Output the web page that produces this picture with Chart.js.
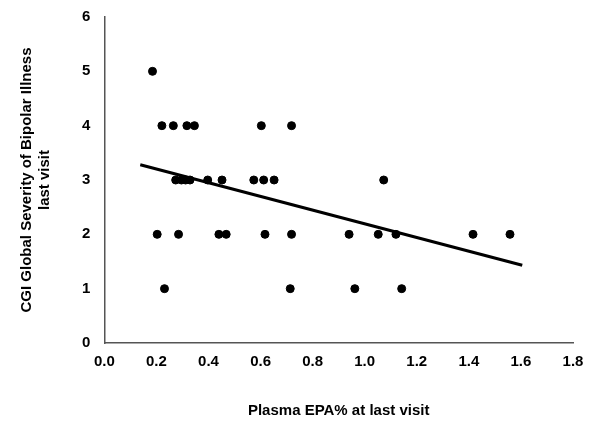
<!DOCTYPE html>
<html>
<head>
<meta charset="utf-8">
<script src="https://cdn.jsdelivr.net/npm/chart.js@4"></script>
<style>
  html, body { margin: 0; padding: 0; background: #fff; }
  #wrap { width: 601px; height: 427px; }
</style>
</head>
<body>
<div id="wrap"><canvas id="c"></canvas></div>
<script>
"use strict";

// Plasma EPA% vs CGI severity
const epaX = [0.185, 0.221, 0.265, 0.317, 0.346, 0.603, 0.719,
  0.274, 0.296, 0.312, 0.329, 0.397, 0.452, 0.574, 0.612, 0.652, 1.073,
  0.203, 0.285, 0.44, 0.468, 0.617, 0.719, 0.94, 1.052, 1.12, 1.416, 1.558,
  0.231, 0.714, 0.962, 1.142];
const cgiY = [5, 4, 4, 4, 4, 4, 4,
  3, 3, 3, 3, 3, 3, 3, 3, 3, 3,
  2, 2, 2, 2, 2, 2, 2, 2, 2, 2, 2,
  1, 1, 1, 1];
const fitX = [0.138, 1.605];
const fitY = [3.28, 1.43];
const xTicks = [0, 0.2, 0.4, 0.6, 0.8, 1.0, 1.2, 1.4, 1.6, 1.8];

const font = { family: "'Liberation Sans', Arial, sans-serif", size: 15, weight: "bold" };

new Chart(document.getElementById("c"), {
  type: "scatter",
  data: {
    datasets: [
      {
        data: epaX.map((x, i) => ({ x, y: cgiY[i] })),
        backgroundColor: "#000",
        borderColor: "#000",
        pointRadius: 4,
        pointHoverRadius: 4,
      },
      {
        type: "line",
        data: fitX.map((x, i) => ({ x, y: fitY[i] })),
        borderColor: "#000",
        borderWidth: 3,
        pointRadius: 0,
        fill: false,
      },
    ],
  },
  options: {
    responsive: true,
    maintainAspectRatio: false,
    animation: false,
    layout: { padding: { top: 11, right: 28, bottom: 3, left: 14 } },
    plugins: { legend: { display: false }, tooltip: { enabled: false } },
    scales: {
      x: {
        type: "linear",
        min: 0,
        max: 1.8,
        afterBuildTicks: (ax) => { ax.ticks = xTicks.map((v) => ({ value: v })); },
        grid: { display: false, drawTicks: true, tickLength: 6, color: "#333" },
        border: { color: "#555", width: 1.5 },
        ticks: { color: "#000", font, callback: (v) => Number(v).toFixed(1), padding: 4 },
        title: { display: true, text: "Plasma EPA% at last visit", color: "#000", font, padding: { top: 27 } },
      },
      y: {
        min: 0,
        max: 6,
        grid: { display: false, drawTicks: true, tickLength: 6, color: "#333" },
        border: { color: "#555", width: 1.5 },
        ticks: { color: "#000", font, stepSize: 1, padding: 8 },
        title: {
          display: true,
          text: ["CGI Global Severity of Bipolar Illness", "last visit"],
          color: "#000",
          font,
          padding: { bottom: 20 },
        },
      },
    },
  },
});
</script>
</body>
</html>
